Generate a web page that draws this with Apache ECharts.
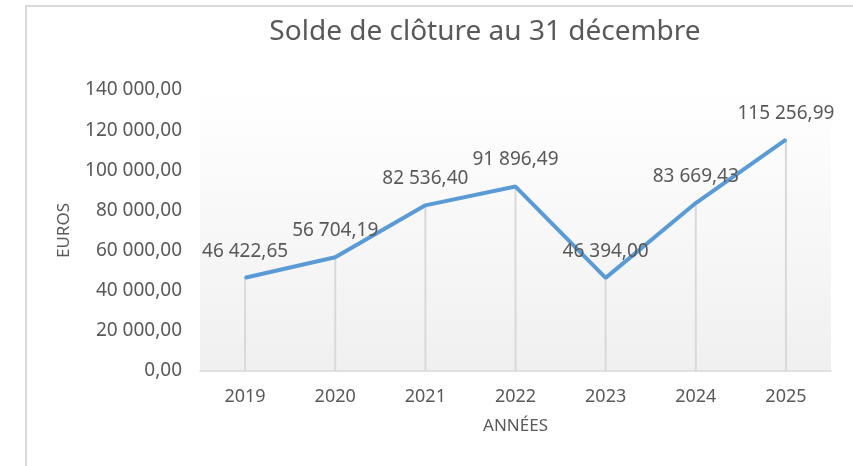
<!DOCTYPE html>
<html>
<head>
<meta charset="utf-8">
<script src="https://cdn.jsdelivr.net/npm/echarts@6/dist/echarts.min.js"></script>
<style>
  html, body { margin: 0; padding: 0; background: #fff; }
  #frame { position: absolute; left: 25px; top: 5px; width: 900px; height: 500px;
           border-left: 2px solid #d9d9d9; border-top: 2px solid #d9d9d9; }
  #main { position: absolute; left: 0; top: 0; width: 853px; height: 466px; }
</style>
</head>
<body>
<div id="frame"></div>
<div id="main"></div>
<script>
var annees = ['2019', '2020', '2021', '2022', '2023', '2024', '2025'];
var soldes = [46422.65, 56704.19, 82536.40, 91896.49, 46394.00, 83669.43, 115256.99];

// format français : 46 422,65
function fmt_euros(v) {
    var s = Number(v).toFixed(2).split('.');
    var ent = s[0].replace(/\B(?=(\d{3})+(?!\d))/g, ' ');
    return ent + ',' + s[1];
}

var police = '"Noto Sans", sans-serif';
var gris_txt = '#595959';

var chart = echarts.init(document.getElementById('main'));
var option = {
    animation: false,
    title: {
        text: 'Solde de clôture au 31 décembre',
        left: 480,
        textAlign: 'center',
        top: 13,
        textStyle: { fontFamily: police, fontSize: 28, fontWeight: 'normal', color: gris_txt }
    },
    grid: {
        left: 200, right: 22, top: 90, bottom: 95,
        show: true,
        borderWidth: 0,
        backgroundColor: new echarts.graphic.LinearGradient(0, 0, 0, 1, [
            { offset: 0, color: '#ffffff' },
            { offset: 1, color: '#f0f0f0' }
        ])
    },
    xAxis: {
        type: 'category',
        data: annees,
        name: 'ANNÉES',
        nameLocation: 'middle',
        nameGap: 47,
        nameTextStyle: { fontFamily: police, fontSize: 17, color: gris_txt },
        axisLine: { lineStyle: { color: '#d9d9d9', width: 1.5 } },
        axisTick: { show: false },
        axisLabel: { margin: 17, fontFamily: police, fontSize: 18, color: gris_txt }
    },
    yAxis: {
        type: 'value',
        min: 0,
        max: 140000,
        interval: 20000,
        name: 'EUROS',
        nameLocation: 'middle',
        nameGap: 127,
        nameTextStyle: { fontFamily: police, fontSize: 17, color: gris_txt },
        axisLine: { show: false },
        axisTick: { show: false },
        splitLine: { show: false },
        axisLabel: {
            margin: 18, fontFamily: police, fontSize: 19, color: gris_txt,
            formatter: fmt_euros
        }
    },
    series: [
        {
            // traits verticaux jusqu'à l'axe
            type: 'bar',
            data: soldes,
            barWidth: 2,
            silent: true,
            itemStyle: { color: '#d9d9d9' },
            z: 1
        },
        {
            type: 'line',
            data: soldes,
            symbol: 'circle',
            symbolSize: 2,
            showSymbol: true,
            itemStyle: { color: '#5b9bd5' },
            lineStyle: { color: '#5b9bd5', width: 4 },
            z: 3,
            label: {
                show: true,
                position: 'top',
                distance: 16,
                fontFamily: police,
                fontSize: 19,
                color: gris_txt,
                formatter: function (p) { return fmt_euros(p.value); }
            }
        }
    ]
};
chart.setOption(option);
</script>
</body>
</html>
